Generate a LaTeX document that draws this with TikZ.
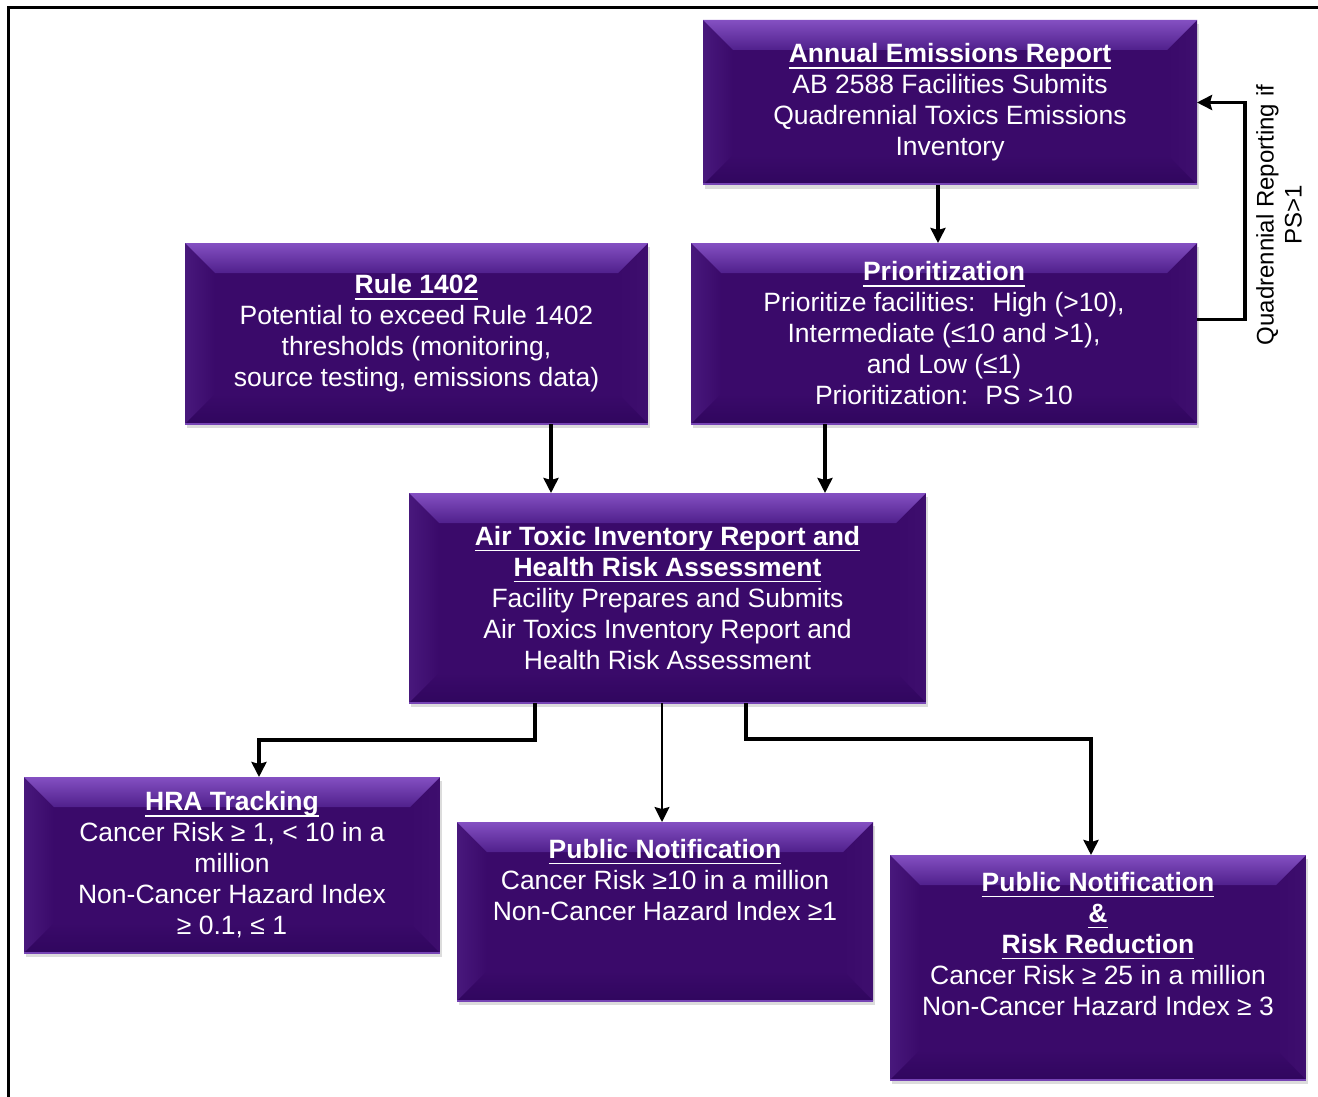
\documentclass[tikz,border=0pt]{standalone}
\usepackage{fontspec}
\setmainfont{Liberation Sans}
\usetikzlibrary{arrows.meta,shadows}
\definecolor{face}{RGB}{58,10,106}
\definecolor{bevtop}{RGB}{132,80,194}
\definecolor{bevtopb}{RGB}{80,32,140}
\definecolor{bevleft}{RGB}{72,24,124}
\definecolor{bevright}{RGB}{62,14,110}
\definecolor{bevbot}{RGB}{48,6,94}
\definecolor{bevline}{RGB}{118,68,180}
\newsavebox{\ttlbox}
\newcommand{\ttl}[1]{\sbox{\ttlbox}{\textbf{#1}}\rlap{\rule[-6pt]{\wd\ttlbox}{1.8pt}}\usebox{\ttlbox}}
\tikzset{
	box/.style={
		shape = rectangle,
		inner sep = 0pt,
		outer sep = 0pt,
		fill = face,
		text = white,
		align = center,
		drop shadow = {shadow xshift=2pt, shadow yshift=-4pt, opacity=0.28},
		path picture = {
			\path (path picture bounding box.north west) coordinate (nw)
			      (path picture bounding box.north east) coordinate (ne)
			      (path picture bounding box.south west) coordinate (sw)
			      (path picture bounding box.south east) coordinate (se);
			\shade[left color=bevleft, right color=face] (nw) -- ([xshift=30pt,yshift=-30pt]nw) -- ([xshift=30pt,yshift=30pt]sw) -- (sw) -- cycle;
			\shade[left color=face, right color=bevright] (ne) -- ([xshift=-30pt,yshift=-30pt]ne) -- ([xshift=-30pt,yshift=30pt]se) -- (se) -- cycle;
			\shade[top color=face, bottom color=bevbot] (sw) -- ([xshift=30pt,yshift=30pt]sw) -- ([xshift=-30pt,yshift=30pt]se) -- (se) -- cycle;
			\shade[top color=bevtop, bottom color=bevtopb] (nw) -- (ne) -- ([xshift=-30pt,yshift=-30pt]ne) -- ([xshift=30pt,yshift=-30pt]nw) -- cycle;
			\draw[bevline, line width=3pt] (sw) -- (se);
		}
	},
	txt/.style={
		text = white,
		align = center,
		inner sep = 0pt
	},
	link/.style={
		->,
		line width = 3.2pt
	},
}
\tikzset{>={Stealth[length=15pt,width=15pt,inset=2pt]}}

\begin{document}
\begin{tikzpicture}[x=1pt, y=-1pt, font=\fontsize{26.5}{31}\selectfont]
    \useasboundingbox (0,0) rectangle (1318,1097);
    \draw[line width=3pt] (8,1097) -- (8,8) -- (1318,8);
    \node[box, minimum width=494pt, minimum height=165pt] (annual) at (950,102.5)
        {\ttl{Annual Emissions Report}\\AB 2588 Facilities Submits\\Quadrennial Toxics Emissions\\Inventory};
    \node[box, minimum width=463pt, minimum height=181pt] (rule) at (416.5,333.5)
        {\ttl{Rule 1402}\\Potential to exceed Rule 1402\\thresholds (monitoring,\\source testing, emissions data)};
    \node[box, minimum width=506pt, minimum height=181pt] (prior) at (944,333.5)
        {\ttl{Prioritization}\\Prioritize facilities:~ High (>10),\\Intermediate (≤10 and >1),\\and Low (≤1)\\Prioritization:~ PS >10};
    \node[box, minimum width=517pt, minimum height=210pt] (air) at (667.5,598)
        {\ttl{Air Toxic Inventory Report and}\\\ttl{Health Risk Assessment}\\Facility Prepares and Submits\\Air Toxics Inventory Report and\\Health Risk Assessment};
    \node[box, minimum width=416pt, minimum height=176pt] (hra) at (232,865)
        {\ttl{HRA Tracking}\\Cancer Risk ≥ 1, < 10 in a\\million\\Non-Cancer Hazard Index\\≥ 0.1, ≤ 1};
    \node[box, minimum width=416pt, minimum height=179pt] (pn) at (665,911.5) {};
    \node[txt] (pntext) at ([yshift=31.5pt]pn.center)
        {\ttl{Public Notification}\\Cancer Risk ≥10 in a million\\Non-Cancer Hazard Index ≥1};
    \node[box, minimum width=416pt, minimum height=225pt] (pnrr) at (1098,967.5) {};
    \node[txt] (pnrrtext) at ([yshift=23.5pt]pnrr.center)
        {\ttl{Public Notification}\\\ttl{\&}\\\ttl{Risk Reduction}\\Cancer Risk ≥ 25 in a million\\Non-Cancer Hazard Index ≥ 3};
    \node[rotate=90, align=center, font=\fontsize{24}{28}\selectfont] (loop) at (1279,215)
        {Quadrennial Reporting if\\PS>1};
    \draw[link] ([xshift=-12pt]annual.south) -- ([xshift=-12pt]annual.south |- prior.north);
    \draw[link] ([yshift=14pt]prior.east) -- ++(48,0) |- (annual.east);
    \draw[link] ([xshift=134.5pt]rule.south) -- ([xshift=134.5pt]rule.south |- air.north);
    \draw[link] ([xshift=-119pt]prior.south) -- ([xshift=-119pt]prior.south |- air.north);
    \draw[link] ([xshift=-132.5pt]air.south) -- ++(0,37) -| ([xshift=27pt]hra.north);
    \draw[link, line width=2pt] ([xshift=-5.5pt]air.south) -- ([xshift=-5.5pt]air.south |- pn.north);
    \draw[link] ([xshift=78.5pt]air.south) -- ++(0,36) -| ([xshift=-7pt]pnrr.north);
\end{tikzpicture}
\end{document}
